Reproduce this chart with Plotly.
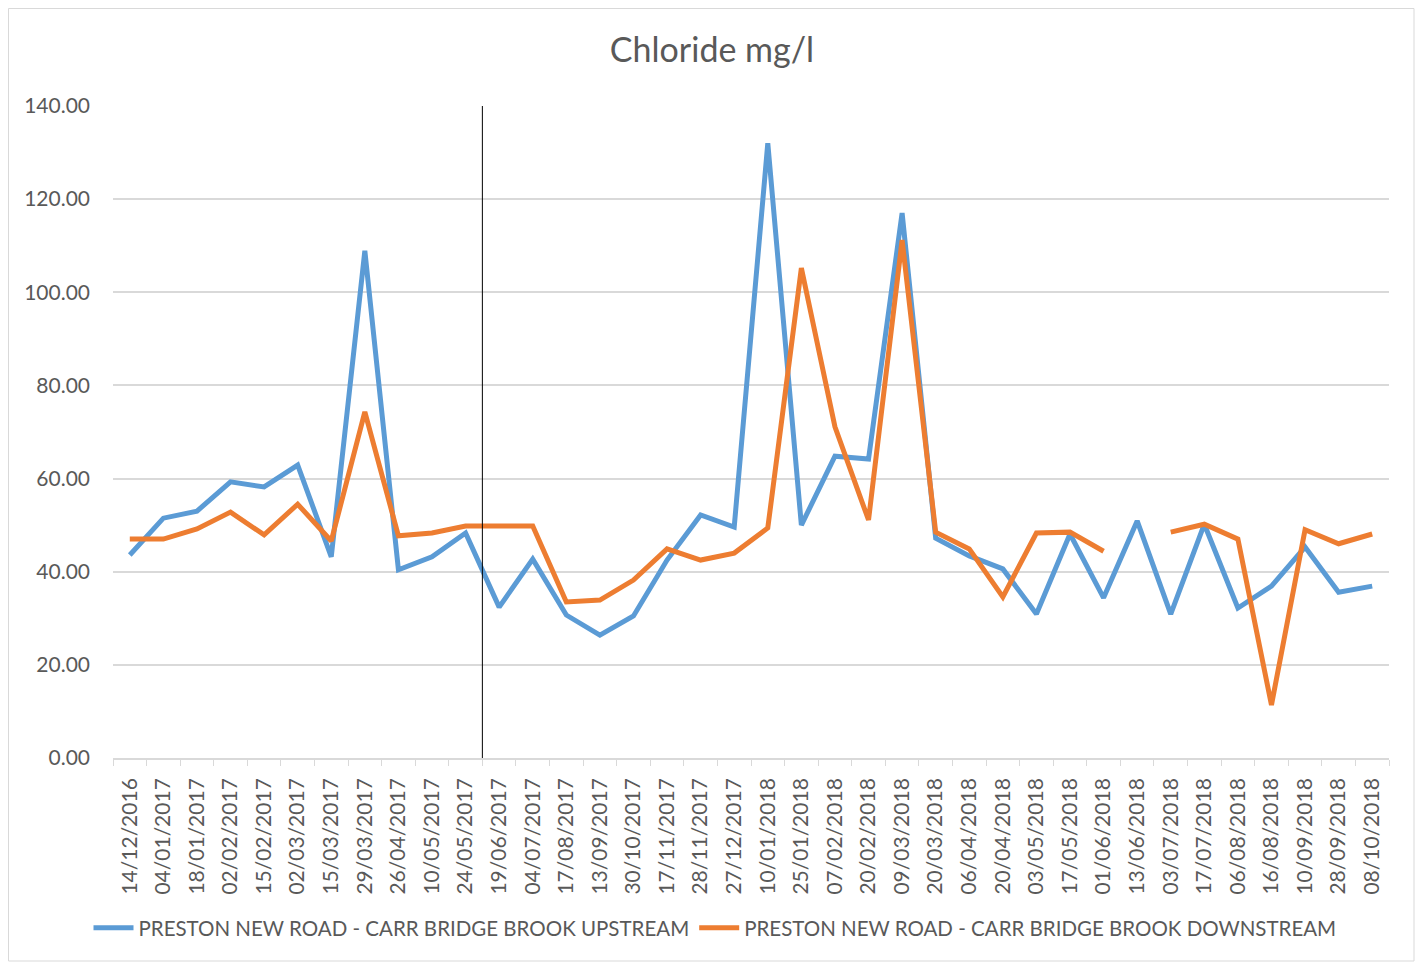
import plotly.graph_objects as go

dates = ["14/12/2016", "04/01/2017", "18/01/2017", "02/02/2017", "15/02/2017", "02/03/2017",
         "15/03/2017", "29/03/2017", "26/04/2017", "10/05/2017", "24/05/2017", "19/06/2017",
         "04/07/2017", "17/08/2017", "13/09/2017", "30/10/2017", "17/11/2017", "28/11/2017",
         "27/12/2017", "10/01/2018", "25/01/2018", "07/02/2018", "20/02/2018", "09/03/2018",
         "20/03/2018", "06/04/2018", "20/04/2018", "03/05/2018", "17/05/2018", "01/06/2018",
         "13/06/2018", "03/07/2018", "17/07/2018", "06/08/2018", "16/08/2018", "10/09/2018",
         "28/09/2018", "08/10/2018"]

upstream = [43.6, 51.5, 53.0, 59.3, 58.2, 62.9, 43.2, 108.9, 40.4, 43.2, 48.3, 32.4,
            42.7, 30.7, 26.4, 30.5, 42.5, 52.2, 49.6, 132.0, 50.0, 64.8, 64.2, 117.0,
            47.2, 43.4, 40.6, 30.9, 48.1, 34.4, 50.9, 30.9, 50.2, 32.2, 36.9, 45.3,
            35.6, 36.9]

downstream = [47.0, 47.0, 49.2, 52.8, 47.9, 54.5, 46.6, 74.3, 47.7, 48.3, 49.8, 49.8,
              49.8, 33.5, 33.9, 38.2, 44.9, 42.5, 44.0, 49.4, 105.2, 71.1, 51.1, 111.2,
              48.5, 44.9, 34.6, 48.3, 48.5, 44.4, None, 48.5, 50.2, 47.0, 11.4, 49.0,
              46.0, 48.1]

name_up = "PRESTON NEW ROAD - CARR BRIDGE BROOK UPSTREAM"
name_down = "PRESTON NEW ROAD - CARR BRIDGE BROOK DOWNSTREAM"
title = "Chloride mg/l"
marker_pos = 10.5  # boundary between 24/05/2017 and 19/06/2017

FONT = "Lato"
GREY = "#595959"
GRID = "#d9d9d9"

fig = go.Figure()
fig.add_trace(go.Scatter(x=dates, y=upstream, name=name_up, mode="lines",
                         line=dict(color="#5B9BD5", width=5)))
fig.add_trace(go.Scatter(x=dates, y=downstream, name=name_down, mode="lines",
                         connectgaps=False,
                         line=dict(color="#ED7D31", width=5)))

fig.add_shape(type="line", xref="x", yref="y", x0=marker_pos, x1=marker_pos, y0=0, y1=140,
              line=dict(color="black", width=1))

OFF = 8  # page body margin
W, H = 1423 - OFF, 963 - OFF
L, R, T, B = 113 - OFF, 1389 - OFF, 106 - OFF, 758 - OFF
pw, ph = R - L, B - T
def px(xp):
    return (xp - OFF - L) / pw
def py(yp):
    return (B - (yp - OFF)) / ph
fig.add_shape(type="rect", xref="paper", yref="paper",
              x0=px(8.5), x1=px(1414), y0=py(961), y1=py(8.5),
              line=dict(color=GRID, width=1), layer="below")

fig.update_layout(
    width=W, height=H,
    margin=dict(l=L, r=W - R, t=T, b=H - B, autoexpand=False),
    paper_bgcolor="white", plot_bgcolor="white",
    font=dict(family=FONT, color=GREY, size=21),
    title=dict(text=title, x=(712 - OFF) / W, xref="container", xanchor="center",
               y=1 - (50 - OFF) / H, yref="container", yanchor="middle",
               font=dict(size=34, color=GREY, family=FONT)),
    showlegend=True,
    legend=dict(orientation="h", x=px(715), xanchor="center", y=py(928), yanchor="middle",
                font=dict(size=20.5, color=GREY, family=FONT), itemwidth=40),
    xaxis=dict(type="category", range=[-0.5, len(dates) - 0.5], tickangle=-90,
               tickson="boundaries", ticks="outside", ticklen=6, tickcolor=GRID,
               showline=True, linecolor=GRID, linewidth=1.5, showgrid=False,
               tickfont=dict(size=21, color=GREY), ticklabelstandoff=10),
    yaxis=dict(range=[0, 140], dtick=20, tickformat=".2f", showgrid=True,
               gridcolor=GRID, gridwidth=1.5, zeroline=False, showline=False,
               tickfont=dict(size=21, color=GREY), ticklabelstandoff=22),
)

fig.write_html("out.html")
